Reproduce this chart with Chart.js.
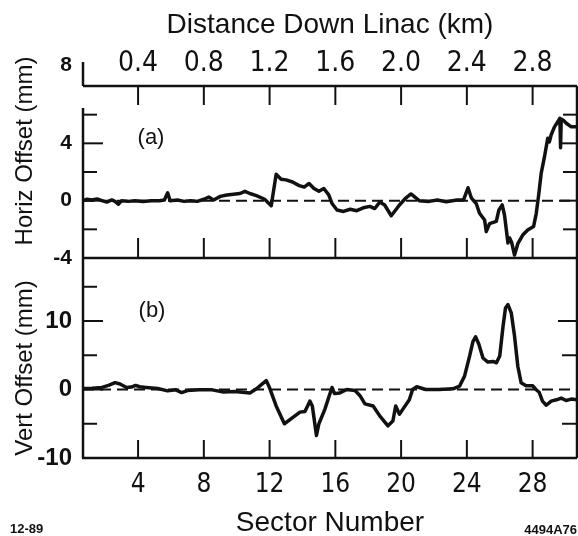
<!DOCTYPE html>
<html>
<head>
<meta charset="utf-8">
<script src="https://cdn.jsdelivr.net/npm/chart.js@4.4.1/dist/chart.umd.min.js"></script>
<style>
  html, body { margin: 0; padding: 0; background: #fff; }
  canvas { display: block; }
</style>
</head>
<body>
<canvas id="myChart" width="578" height="536"></canvas>
<script>
// Linac offsets along the sectors: (a) horizontal, (b) vertical

// x range of both panels, in sectors (top axis is the same in km)
const sectorMin = 0.65;
const sectorMax = 30.7;
const sectorTicks = [4, 8, 12, 16, 20, 24, 28];
const kmTicks = [0.4, 0.8, 1.2, 1.6, 2.0, 2.4, 2.8];
const kmTickLabels = ['0.4', '0.8', '1.2', '1.6', '2.0', '2.4', '2.8'];

// panel (a) horizontal offset (mm)
const horizMin = -4;
const horizMax = 8;
const horizTicks = [-4, 0, 4, 8];
const horizMinorTicks = [-2, 2, 6];
const horizSector = [0.65, 0.9, 1.2, 1.5, 1.8, 2.1, 2.4, 2.6, 2.8, 3.0, 3.4, 3.8, 4.3, 4.8, 5.3, 5.6, 5.8, 5.95,
    6.4, 6.8, 7.2, 7.6, 8.0, 8.3, 8.6, 9.0, 9.4, 9.8, 10.2, 10.5, 10.8, 11.2, 11.7, 12.1, 12.4, 12.7, 13.0,
    13.4, 13.8, 14.1, 14.4, 14.7, 15.0, 15.3, 15.6, 15.8, 16.1, 16.5, 16.9, 17.3, 17.7, 18.1, 18.4, 18.7,
    19.0, 19.4, 19.9, 20.3, 20.6, 21.1, 21.7, 22.2, 22.75, 23.4, 23.8, 24.07, 24.27, 24.57, 24.77, 25.08,
    25.18, 25.38, 25.79, 25.95, 26.15, 26.29, 26.5, 26.6, 26.72, 26.9, 27.1, 27.4, 27.7, 28.06, 28.22,
    28.38, 28.52, 28.72, 28.92, 29.02, 29.13, 29.33, 29.53, 29.66, 29.7, 29.74, 29.88, 30.05, 30.35, 30.7];
const horizOffset = [0.0, 0.1, 0.05, 0.12, 0.0, -0.1, 0.05, -0.05, -0.25, 0.0, -0.05, 0.0, -0.05, 0.0, 0.0, 0.05, 0.55, 0.0,
    0.05, -0.05, 0.0, -0.05, 0.1, 0.25, 0.05, 0.3, 0.4, 0.45, 0.5, 0.65, 0.5, 0.35, 0.1, -0.35, 1.85, 1.5, 1.45,
    1.3, 1.05, 0.95, 1.2, 0.85, 0.65, 0.85, 0.4, -0.2, -0.65, -0.75, -0.6, -0.7, -0.5, -0.4, -0.55, -0.1,
    -0.3, -1.05, -0.3, 0.2, 0.47, 0.0, -0.05, 0.05, -0.07, 0.05, 0.05, 0.9, 0.2, -0.2, -0.88, -1.35,
    -2.16, -1.6, -1.45, -0.65, -0.3, -1.0, -2.95, -2.6, -2.9, -3.8, -3.0, -2.4, -2.05, -1.8, -0.9,
    0.5, 1.9, 3.05, 4.35, 4.1, 4.6, 5.15, 5.5, 5.75, 3.7, 5.7, 5.6, 5.4, 5.15, 5.15];

// panel (b) vertical offset (mm)
const vertMin = -10;
const vertMax = 19.2;
const vertTicks = [-10, 0, 10];
const vertMinorTicks = [-5, 5, 15];
const vertRightTicks = [-5, 5, 10];
const vertSector = [0.65, 1.2, 1.8, 2.2, 2.6, 2.9, 3.3, 3.6, 3.85, 4.1, 4.5, 5.2, 5.8, 6.3, 6.65, 7.0, 7.7, 8.5,
    9.2, 9.9, 10.5, 10.8, 11.2, 11.5, 11.8, 12.0, 12.4, 12.9, 13.4, 13.85, 14.15, 14.45, 14.6, 14.85, 15.0,
    15.36, 15.66, 15.8, 15.95, 16.27, 16.7, 17.2, 17.5, 17.8, 18.3, 18.7, 19.2, 19.5, 19.67, 19.9, 20.1,
    20.5, 20.7, 20.95, 21.5, 22.3, 23.15, 23.56, 23.86, 24.17, 24.37, 24.53, 24.73, 24.98, 25.28, 25.6,
    25.8, 26.0, 26.2, 26.35, 26.5, 26.7, 26.9, 27.1, 27.3, 27.6, 28.0, 28.2, 28.4, 28.6, 28.83, 29.13,
    29.45, 29.74, 30.04, 30.35, 30.7];
const vertOffset = [0.15, 0.2, 0.3, 0.6, 1.0, 0.8, 0.3, 0.35, 0.6, 0.4, 0.3, 0.15, -0.2, -0.05, -0.45, -0.15, -0.05, -0.05,
    -0.35, -0.3, -0.45, -0.5, 0.1, 0.7, 1.3, 0.25, -2.4, -5.0, -4.1, -3.3, -3.2, -1.7, -2.4, -6.7, -5.0,
    -2.9, -0.7, 0.3, -0.6, -0.5, 0.0, -0.15, -0.9, -2.1, -2.4, -3.85, -5.3, -4.6, -2.4, -3.6, -2.9,
    -1.5, 0.0, 0.4, 0.0, 0.0, 0.1, 0.5, 1.95, 4.9, 7.0, 7.7, 6.6, 4.6, 4.0, 4.1,
    3.9, 4.9, 9.2, 11.9, 12.4, 11.2, 7.8, 3.4, 1.0, 0.55, 0.55, 0.0, -0.4, -1.7, -2.3, -1.7,
    -1.5, -1.25, -1.6, -1.4, -1.5];

const INK = '#111';
const SANS = "'Liberation Sans', Arial, sans-serif";
const NARROW = "'Liberation Sans Narrow', 'Arial Narrow', 'DejaVu Sans Condensed', sans-serif";

function points(xs, ys) {
    return xs.map((x, i) => ({ x: x, y: ys[i] }));
}

// frame, inward tick marks and the loose texts of the figure
const framePlugin = {
    id: 'frame',
    afterDraw(chart) {
        const { ctx, chartArea: a } = chart;
        const x = chart.scales.x, ya = chart.scales.ya, yb = chart.scales.yb;
        const mid = ya.bottom;
        const seg = (x0, y0, x1, y1) => {
            ctx.beginPath(); ctx.moveTo(x0, y0); ctx.lineTo(x1, y1); ctx.stroke();
        };
        ctx.save();
        ctx.strokeStyle = INK;
        ctx.lineWidth = 2.5;
        seg(a.left, a.top, a.right, a.top);
        seg(a.left - 1, mid, a.right, mid);
        seg(a.left - 1, a.bottom, a.right, a.bottom);
        seg(a.right, a.top, a.right, a.bottom);
        seg(a.left, a.top + 22, a.left, a.bottom);
        seg(a.left, a.top, a.left, a.top - 24);

        ctx.lineWidth = 2;
        sectorTicks.forEach(v => {
            const px = x.getPixelForValue(v);
            seg(px, a.top, px, a.top + 19);
            seg(px, mid, px, mid - 20);
            seg(px, a.bottom, px, a.bottom - 18);
        });
        horizTicks.forEach(v => {
            if (v <= horizMin || v >= horizMax) return;
            const py = ya.getPixelForValue(v);
            seg(a.left, py, a.left + 20, py);
            seg(a.right, py, a.right - 17, py);
        });
        horizMinorTicks.forEach(v => {
            const py = ya.getPixelForValue(v);
            seg(a.left, py, a.left + 14, py);
            seg(a.right, py, a.right - 14, py);
        });
        vertTicks.forEach(v => {
            if (v <= vertMin) return;
            const py = yb.getPixelForValue(v);
            seg(a.left, py, a.left + 20, py);
        });
        vertMinorTicks.forEach(v => {
            const py = yb.getPixelForValue(v);
            seg(a.left, py, a.left + 14, py);
        });
        vertRightTicks.forEach(v => {
            const py = yb.getPixelForValue(v);
            seg(a.right, py, a.right - (v === 10 ? 19 : 15), py);
        });

        ctx.fillStyle = INK;
        ctx.textAlign = 'right';
        ctx.textBaseline = 'middle';
        ctx.font = 'bold 21px ' + SANS;
        ctx.fillText(String(horizMax), a.left - 11, ya.getPixelForValue(horizMax) - 21);

        ctx.textAlign = 'center';
        ctx.font = '22px ' + SANS;
        ctx.fillText('(a)', 151, 138);
        ctx.fillText('(b)', 152, 311);

        ctx.font = '24px ' + SANS;
        ctx.save();
        ctx.translate(25, 151);
        ctx.rotate(-Math.PI / 2);
        ctx.fillText('Horiz Offset (mm)', 0, 0);
        ctx.restore();
        ctx.save();
        ctx.translate(25, 368);
        ctx.rotate(-Math.PI / 2);
        ctx.fillText('Vert Offset (mm)', 0, 0);
        ctx.restore();

        ctx.font = 'bold 13px ' + SANS;
        ctx.textAlign = 'left';
        ctx.fillText('12-89', 10, 529);
        ctx.textAlign = 'right';
        ctx.fillText('4494A76', 577, 530);
        ctx.restore();
    }
};

function createChart() {
    const ctx = document.getElementById('myChart');
    new Chart(ctx, {
        type: 'line',
        data: {
            datasets: [{
                data: points(horizSector, horizOffset),
                yAxisID: 'ya',
                borderColor: INK,
                borderWidth: 3.5,
                pointRadius: 0,
                borderJoinStyle: 'round',
                borderCapStyle: 'round'
            }, {
                data: points(vertSector, vertOffset),
                yAxisID: 'yb',
                borderColor: INK,
                borderWidth: 3.5,
                pointRadius: 0,
                borderJoinStyle: 'round',
                borderCapStyle: 'round'
            }, {
                data: points([sectorMin, sectorMax], [0, 0]),   // dashed zero line (a)
                yAxisID: 'ya',
                borderColor: INK,
                borderWidth: 2,
                borderDash: [11, 6],
                pointRadius: 0
            }, {
                data: points([sectorMin, sectorMax], [0, 0]),   // dashed zero line (b)
                yAxisID: 'yb',
                borderColor: INK,
                borderWidth: 2,
                borderDash: [11, 6],
                pointRadius: 0
            }]
        },
        options: {
            responsive: false,
            animation: false,
            layout: { padding: { right: 1 } },
            plugins: {
                legend: { display: false },
                tooltip: { enabled: false }
            },
            scales: {
                x: {
                    type: 'linear',
                    position: 'bottom',
                    min: sectorMin,
                    max: sectorMax,
                    grid: { display: false, drawTicks: false },
                    border: { display: false },
                    afterBuildTicks: s => { s.ticks = sectorTicks.map(v => ({ value: v })); },
                    afterFit: s => { s.height = 78; },
                    ticks: {
                        autoSkip: false,
                        maxRotation: 0,
                        padding: 12,
                        color: INK,
                        font: { family: NARROW, size: 26 },
                        callback: v => String(v)
                    },
                    title: {
                        display: true,
                        text: 'Sector Number',
                        color: INK,
                        font: { family: SANS, size: 28, lineHeight: 0.9 },
                        padding: { top: 0, bottom: 0 }
                    }
                },
                x2: {
                    type: 'linear',
                    position: 'top',
                    min: sectorMin / 10,
                    max: sectorMax / 10,
                    grid: { display: false, drawTicks: false },
                    border: { display: false },
                    afterBuildTicks: s => { s.ticks = kmTicks.map(v => ({ value: v })); },
                    afterFit: s => { s.height = 86; },
                    ticks: {
                        autoSkip: false,
                        maxRotation: 0,
                        padding: 5,
                        color: INK,
                        font: { family: NARROW, size: 28 },
                        callback: (v, i) => kmTickLabels[i]
                    },
                    title: {
                        display: true,
                        text: 'Distance Down Linac (km)',
                        color: INK,
                        font: { family: SANS, size: 28 },
                        padding: { top: 8, bottom: 0 }
                    }
                },
                yb: {
                    type: 'linear',
                    position: 'left',
                    stack: 'panels',
                    stackWeight: 200,
                    min: vertMin,
                    max: vertMax,
                    grid: { display: false, drawTicks: false },
                    border: { display: false },
                    afterBuildTicks: s => { s.ticks = vertTicks.map(v => ({ value: v })); },
                    afterFit: s => { s.width = 83; },
                    ticks: {
                        padding: 11,
                        color: INK,
                        font: { family: SANS, size: 24, weight: 'bold' },
                        callback: v => String(v)
                    }
                },
                ya: {
                    type: 'linear',
                    position: 'left',
                    stack: 'panels',
                    stackWeight: 172,
                    min: horizMin,
                    max: horizMax,
                    grid: { display: false, drawTicks: false },
                    border: { display: false },
                    afterBuildTicks: s => { s.ticks = horizTicks.map(v => ({ value: v })); },
                    afterFit: s => { s.width = 83; },
                    ticks: {
                        padding: 11,
                        color: INK,
                        font: { family: SANS, size: 21, weight: 'bold' },
                        callback: v => (v === horizMax ? '' : String(v))
                    }
                }
            }
        },
        plugins: [framePlugin]
    });
}
createChart();
</script>
</body>
</html>
